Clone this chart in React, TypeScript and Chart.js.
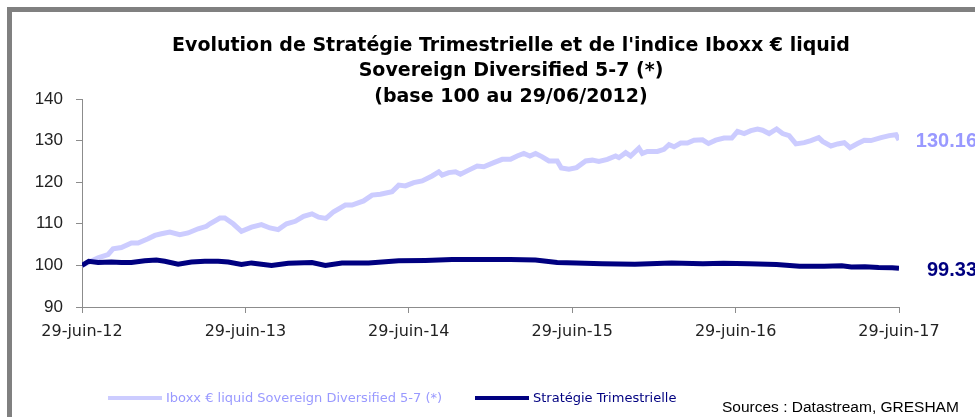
import React, { useEffect, useRef } from "react";
import { Chart, registerables } from "chart.js";

Chart.register(...registerables);

const titleLines = [
  "Evolution de Stratégie Trimestrielle et de l'indice Iboxx € liquid",
  "Sovereign Diversified 5-7 (*)",
  "(base 100 au 29/06/2012)",
];

const xTickLabels = ["29-juin-12", "29-juin-13", "29-juin-14", "29-juin-15", "29-juin-16", "29-juin-17"];

const seriesNames = ["Iboxx € liquid Sovereign Diversified 5-7 (*)", "Stratégie Trimestrielle"];

// months elapsed since 29/06/2012
const iboxxMonths = [
  0, 1.18, 1.91, 2.28, 2.89, 3.63, 4.12, 4.85, 5.35, 5.83, 6.45, 7.18, 7.79, 8.53, 9.14, 9.39,
  10.13, 10.49, 11.1, 11.71, 12.45, 13.18, 13.8, 14.41, 15.02, 15.66, 16.27, 16.89, 17.38, 17.92,
  18.48, 19.34, 19.83, 20.68, 21.3, 21.91, 22.77, 23.26, 23.75, 24.36, 24.98, 25.71, 26.2, 26.45,
  26.93, 27.43, 27.79, 28.4, 29.02, 29.51, 30.24, 30.86, 31.47, 31.96, 32.45, 32.89, 33.31, 33.8,
  34.29, 34.9, 35.2, 35.76, 36.32, 36.99, 37.48, 37.96, 38.58, 39.19, 39.43, 39.93, 40.29, 40.9,
  41.15, 41.52, 42.26, 42.74, 43.11, 43.48, 43.97, 44.46, 44.95, 45.57, 46.01, 46.54, 47.15, 47.72,
  48.14, 48.63, 49.12, 49.61, 49.98, 50.46, 51.01, 51.45, 51.93, 52.43, 53.04, 53.53, 54.1, 54.39,
  55.0, 55.49, 55.98, 56.4, 56.96, 57.45, 57.94, 58.68, 59.29, 59.78, 60,
];
const iboxxValues = [
  100, 101.8, 102.6, 104, 104.3, 105.4, 105.4, 106.4, 107.2, 107.6, 108, 107.4, 107.8, 108.8, 109.4, 110,
  111.4, 111.4, 110, 108.2, 109.2, 109.8, 109, 108.6, 110, 110.6, 111.8, 112.4, 111.6, 111.3,
  112.9, 114.5, 114.5, 115.5, 116.9, 117.1, 117.7, 119.3, 119.1, 119.9, 120.3, 121.5, 122.5, 121.7,
  122.3, 122.5, 121.9, 122.9, 123.9, 123.7, 124.7, 125.5, 125.5, 126.3, 126.9, 126.3, 126.9, 126.1,
  125.1, 125.1, 123.4, 123.1, 123.5, 125.1, 125.3, 125, 125.5, 126.3, 125.9, 127.1, 126.3, 128.2,
  126.9, 127.4, 127.4, 127.9, 129, 128.5, 129.4, 129.4, 130.1, 130.2, 129.3, 130.1, 130.6, 130.6,
  132.2, 131.7, 132.4, 132.8, 132.5, 131.7, 132.8, 131.7, 131.2, 129.2, 129.5, 130, 130.7, 129.8,
  128.7, 129.2, 129.5, 128.3, 129.3, 130.1, 130, 130.7, 131.2, 131.4, 130.16,
];

const stratMonths = [
  0, 0.5, 1.18, 2.16, 2.89, 3.63, 4.61, 5.46, 6.08, 7.06, 8.04, 9.02, 10, 10.74, 11.71, 12.45,
  13.18, 13.92, 15.15, 16.89, 17.87, 19.09, 21.05, 23.26, 25.22, 27.18, 29.63, 31.47, 33.3, 34.9,
  36.3, 38.2, 40.6, 43.3, 45.6, 47.1, 49.0, 51.0, 52.7, 54.5, 55.8, 56.5, 57.5, 58.5, 59.5, 60,
];
const stratValues = [
  100, 101, 100.7, 100.8, 100.7, 100.7, 101.1, 101.3, 101, 100.3, 100.8, 101, 101, 100.8, 100.2, 100.6,
  100.3, 100, 100.5, 100.7, 100, 100.6, 100.6, 101.1, 101.2, 101.4, 101.4, 101.4, 101.3, 100.7,
  100.6, 100.4, 100.3, 100.6, 100.4, 100.5, 100.4, 100.2, 99.8, 99.8, 99.9, 99.6, 99.7, 99.5, 99.45, 99.33,
];

const lineColors = ["#CCCCFF", "#000080"];
const labelColors = ["#9999FF", "#000080"];
const FONT = "'Liberation Sans', Arial, sans-serif";
const WIDE = "'DejaVu Sans', Verdana, sans-serif";

const decorPlugin = {
  id: "decor",
  beforeDraw(chart: any) {
    const ctx = chart.ctx;
    ctx.save();
    ctx.fillStyle = "#ffffff";
    ctx.fillRect(0, 0, chart.width, chart.height);
    ctx.fillStyle = "#808080";
    ctx.fillRect(7, 7, chart.width, 5);
    ctx.fillRect(7, 7, 5, chart.height);
    ctx.restore();
  },
  afterDraw(chart: any) {
    const ctx = chart.ctx;
    const area = chart.chartArea;
    ctx.save();
    // title
    ctx.fillStyle = "#000000";
    ctx.font = `bold 19px ${WIDE}`;
    ctx.textAlign = "center";
    ctx.textBaseline = "middle";
    titleLines.forEach((t, i) => ctx.fillText(t, 511, 46 + i * 25.5));

    // end value labels
    ctx.font = `bold 20px ${FONT}`;
    ctx.textAlign = "right";
    chart.data.datasets.forEach((ds: any, i: number) => {
      const last = ds.data[ds.data.length - 1];
      const y = chart.scales.y.getPixelForValue(last.y);
      ctx.fillStyle = labelColors[i];
      ctx.fillText(last.y.toFixed(2), area.right + 78, y + 2);
    });

    // legend
    const legendX = [108, 475];
    const legendY = 398;
    ctx.font = `13px ${WIDE}`;
    ctx.textAlign = "left";
    chart.data.datasets.forEach((ds: any, i: number) => {
      ctx.strokeStyle = lineColors[i];
      ctx.lineWidth = 4;
      ctx.beginPath();
      ctx.moveTo(legendX[i], legendY);
      ctx.lineTo(legendX[i] + 54, legendY);
      ctx.stroke();
      ctx.fillStyle = labelColors[i];
      ctx.fillText(ds.label, legendX[i] + 58, legendY + 1);
    });

    // sources
    ctx.fillStyle = "#000000";
    ctx.font = `15.5px ${FONT}`;
    ctx.fillText("Sources : Datastream, GRESHAM", 722, 408);
    ctx.restore();
  },
};

export default function App() {
  const canvasRef = useRef<HTMLCanvasElement | null>(null);

  useEffect(() => {
    document.body.style.margin = "0";
    const canvas = canvasRef.current;
    if (!canvas) return;
    const chart = new Chart(canvas, {
      type: "line",
      data: {
        datasets: [
          {
            label: seriesNames[0],
            data: iboxxMonths.map((m, i) => ({ x: m, y: iboxxValues[i] })),
            borderColor: lineColors[0],
            backgroundColor: lineColors[0],
            borderWidth: 5,
            pointRadius: 0,
            tension: 0,
            order: 1,
          },
          {
            label: seriesNames[1],
            data: stratMonths.map((m, i) => ({ x: m, y: stratValues[i] })),
            borderColor: lineColors[1],
            backgroundColor: lineColors[1],
            borderWidth: 5,
            pointRadius: 0,
            tension: 0,
            order: 0,
          },
        ],
      },
      options: {
        animation: false,
        responsive: false,
        maintainAspectRatio: false,
        layout: { padding: { top: 99, right: 76, left: 0, bottom: 0 } },
        plugins: {
          legend: { display: false },
          title: { display: false },
          tooltip: { enabled: false },
        },
        scales: {
          x: {
            type: "linear",
            min: 0,
            max: 60,
            afterFit: (s: any) => {
              s.height = 110;
            },
            border: { color: "#8c8c8c", width: 1 },
            grid: { drawOnChartArea: false, tickLength: 6, color: "#8c8c8c" },
            ticks: {
              stepSize: 12,
              autoSkip: false,
              maxRotation: 0,
              padding: 9,
              color: "#222222",
              font: { family: WIDE, size: 16 },
              callback: (v: any) => xTickLabels[Math.round(Number(v) / 12)],
            },
          },
          y: {
            min: 90,
            max: 140,
            afterFit: (s: any) => {
              s.width = 82;
            },
            border: { color: "#8c8c8c", width: 1 },
            grid: { drawOnChartArea: false, tickLength: 6, color: "#8c8c8c" },
            ticks: {
              stepSize: 10,
              padding: 13,
              color: "#222222",
              font: { family: FONT, size: 17 },
            },
          },
        },
      },
      plugins: [decorPlugin],
    });
    return () => chart.destroy();
  }, []);

  return (
    <div style={{ width: 975, height: 417 }}>
      <canvas ref={canvasRef} width={975} height={417} />
    </div>
  );
}
